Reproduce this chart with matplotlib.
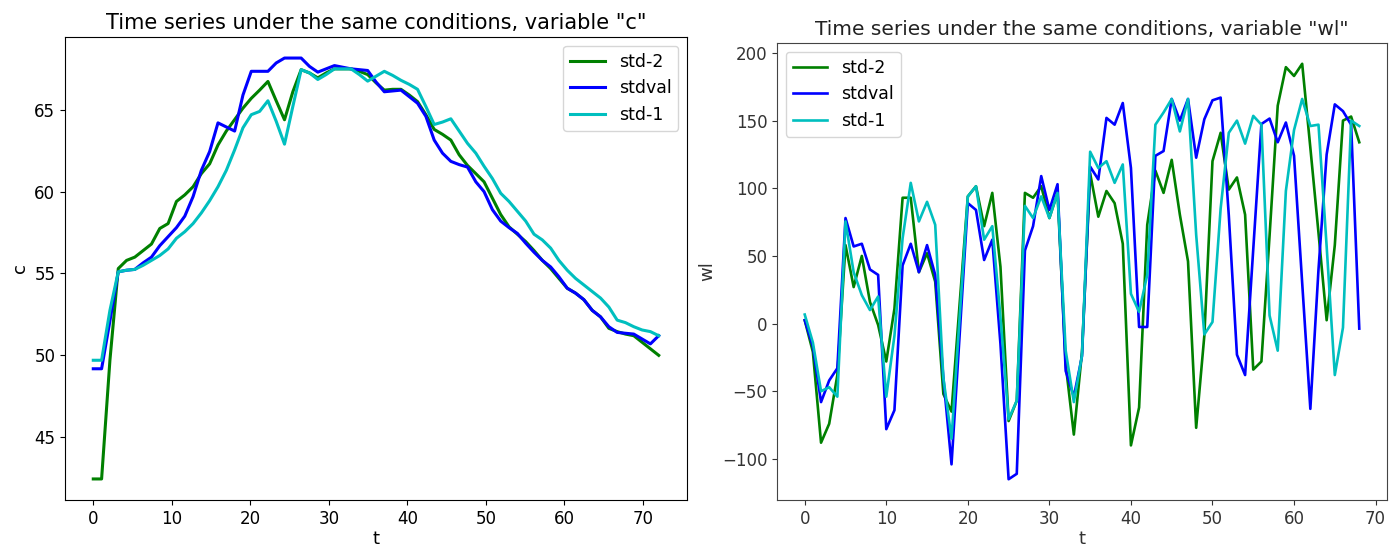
import matplotlib
matplotlib.use("Agg")
import matplotlib.pyplot as plt
import numpy as np

# ---------------- data: left panel, variable "c" ----------------
# sample positions (last sample at t = 72)
t_c = [0, 1.06, 2.12, 3.18, 4.24, 5.29, 6.35, 7.41, 8.47, 9.53,
       10.59, 11.65, 12.71, 13.76, 14.82, 15.88, 16.94, 18.0, 19.06, 20.12,
       21.18, 22.24, 23.29, 24.35, 25.41, 26.47, 27.53, 28.59, 29.65, 30.71,
       31.76, 32.82, 33.88, 34.94, 36.0, 37.06, 38.12, 39.18, 40.24, 41.29,
       42.35, 43.41, 44.47, 45.53, 46.59, 47.65, 48.71, 49.76, 50.82, 51.88,
       52.94, 54.0, 55.06, 56.12, 57.18, 58.24, 59.29, 60.35, 61.41, 62.47,
       63.53, 64.59, 65.65, 66.71, 67.76, 68.82, 69.88, 70.94, 72.0]
c_std2 = [42.45, 42.45, 49.7, 55.3, 55.8, 56.0, 56.4, 56.8, 57.75, 58.05,
          59.4, 59.8, 60.3, 61.1, 61.7, 62.85, 63.7, 64.4, 65.1, 65.7,
          66.2, 66.73, 65.55, 64.39, 66.1, 67.45, 67.25, 66.95, 67.25, 67.5,
          67.5, 67.5, 67.35, 67.15, 66.65, 66.2, 66.25, 66.25, 65.9, 65.5,
          64.7, 63.8, 63.5, 63.15, 62.25, 61.6, 61.1, 60.6, 59.6, 58.6,
          57.85, 57.4, 56.95, 56.4, 55.8, 55.3, 54.7, 54.1, 53.8, 53.4,
          52.75, 52.35, 51.65, 51.45, 51.3, 51.2, 50.8, 50.4, 50.0]
c_stdval = [49.18, 49.18, 52.1, 55.1, 55.2, 55.25, 55.65, 56.0, 56.7, 57.25,
            57.8, 58.5, 59.7, 61.3, 62.45, 64.2, 63.95, 63.7, 65.9, 67.35,
            67.35, 67.35, 67.86, 68.16, 68.16, 68.16, 67.65, 67.3, 67.5, 67.7,
            67.6, 67.5, 67.45, 67.4, 66.7, 66.1, 66.15, 66.2, 65.8, 65.4,
            64.6, 63.15, 62.35, 61.85, 61.65, 61.5, 60.6, 60.0, 58.9, 58.2,
            57.8, 57.45, 56.85, 56.3, 55.8, 55.4, 54.8, 54.1, 53.8, 53.4,
            52.75, 52.35, 51.75, 51.4, 51.35, 51.3, 51.0, 50.7, 51.2]
c_std1 = [49.7, 49.7, 52.75, 55.1, 55.2, 55.25, 55.5, 55.8, 56.1, 56.5,
          57.15, 57.55, 58.05, 58.7, 59.45, 60.3, 61.3, 62.55, 63.9, 64.7,
          64.9, 65.55, 64.3, 62.9, 65.2, 67.45, 67.25, 66.85, 67.15, 67.5,
          67.5, 67.5, 67.15, 66.75, 67.05, 67.35, 67.1, 66.8, 66.55, 66.25,
          65.2, 64.1, 64.25, 64.45, 63.7, 62.95, 62.35, 61.55, 60.8, 59.9,
          59.4, 58.8, 58.2, 57.4, 57.05, 56.55, 55.8, 55.2, 54.7, 54.3,
          53.9, 53.5, 52.95, 52.15, 52.0, 51.75, 51.55, 51.45, 51.2]

# ---------------- data: right panel, variable "wl" ----------------
t_wl = list(range(69))
wl_std2 = [2.5, -21, -88, -74, -38, 58, 27, 50, 16, -1,
           -28, 11, 93, 93, 38, 52, 31, -52, -65, 15,
           94, 101.5, 72, 96.6, 42, -72, -57, 96.6, 93, 101.5,
           78, 96.6, -30, -82, -21, 111, 79, 98, 89, 59,
           -90, -62, 73, 113, 96.6, 121, 80.5, 46, -77, -9,
           120, 141, 99, 108, 80.5, -34, -28, 65, 161, 189.5,
           183, 192, 130, 67, 2.5, 58, 150, 153, 134]
wl_stdval = [2.5, -17, -58, -42, -33, 78, 57, 59, 40, 36,
             -78, -64, 43, 59, 38, 58, 36, -40, -104, -8,
             89, 84, 47, 62, -15, -115, -111, 54, 72, 109,
             84, 103, -35, -54, -24, 116, 106.5, 152, 147, 163,
             115, -2.5, -2.5, 124, 127.5, 166, 150, 166, 122.6, 151,
             165, 167, 80, -23, -38, 55, 147.5, 151.5, 134, 148.6,
             124, 30, -63, 40, 125, 162, 157, 147, -3.7]
wl_std1 = [6.7, -14, -50, -47, -54, 75.5, 38, 21, 10, 20,
           -54, -9, 63, 104, 75.5, 90, 73, -40, -85, 5,
           94, 101.5, 62, 72, 5, -70.6, -57, 87, 78, 94,
           78, 96.6, -20, -58, -23.5, 127, 115, 120, 104, 117.6,
           22, 8.7, 36, 147, 156, 166, 142, 166, 65.6, -8,
           1.2, 85, 141, 150, 133, 153.5, 147, 6, -20, 98,
           143, 166, 146, 147, 57, -38, -3, 150, 146]

series_names = ["std-2", "stdval", "std-1"]
series_colors = ["g", "b", "c"]

# ---------------- figure ----------------
W, H = 1400, 554
fig = plt.figure(figsize=(W / 100, H / 100), dpi=100)
plt.rcParams['font.family'] = ['DejaVu Sans']


def box(l, r, top, bot):
    return [l / W, (H - bot) / H, (r - l) / W, (bot - top) / H]


# left panel
ax1 = fig.add_axes(box(65, 687, 37, 500))
for ys, name, col in zip([c_std2, c_stdval, c_std1], series_names, series_colors):
    ax1.plot(t_c, ys, color=col, lw=2.2, label=name)
ax1.set_title('Time series under the same conditions, variable "c"', fontsize=15)
ax1.set_xlabel("t", fontsize=13, labelpad=2)
ax1.set_ylabel("c", fontsize=13)
ax1.set_xticks(range(0, 71, 10))
ax1.set_yticks([45, 50, 55, 60, 65])
ax1.tick_params(labelsize=12)
ax1.legend(loc="upper right", fontsize=12.5, handlelength=2.0)

# right panel
ax2 = fig.add_axes(box(777, 1387, 43, 500))
for ys, name, col in zip([wl_std2, wl_stdval, wl_std1], series_names, series_colors):
    ax2.plot(t_wl, ys, color=col, lw=1.9, label=name)
ax2.set_title('Time series under the same conditions, variable "wl"', fontsize=14.5,
              color="#222222")
ax2.set_xlabel("t", fontsize=13, color="#333333", labelpad=2)
ax2.set_ylabel("wl", fontsize=13, color="#333333")
ax2.set_xticks(range(0, 71, 10))
ax2.set_yticks([-100, -50, 0, 50, 100, 150, 200])
ax2.tick_params(labelsize=12, colors="#333333")
for sp in ax2.spines.values():
    sp.set_color("#444444")
ax2.legend(loc="upper left", fontsize=12.5, handlelength=2.0)

fig.savefig("out.png", dpi=100)
